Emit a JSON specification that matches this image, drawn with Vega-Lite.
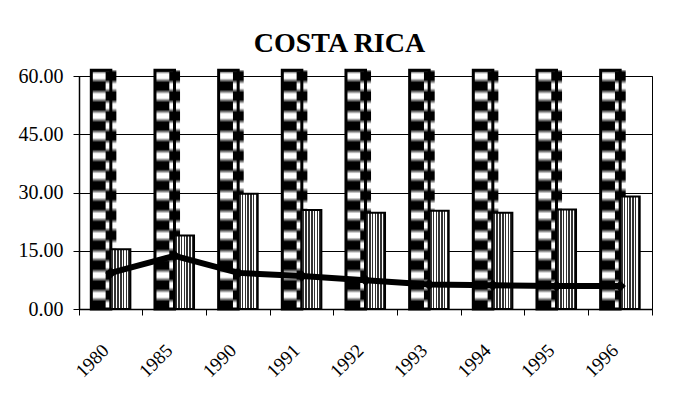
{
  "$schema": "https://vega.github.io/schema/vega-lite/v6.json",
  "width": 573,
  "height": 233,
  "autosize": {"type": "none"},
  "padding": {"left": 79, "top": 76, "right": 29, "bottom": 99},
  "background": "white",
  "title": {"text": "COSTA RICA", "font": "Liberation Serif", "fontSize": 28, "fontWeight": "bold", "color": "black", "anchor": "middle", "dx": -26, "offset": 8},
  "data": {"values": [
    {"year": "1980", "a": 61.5, "b": 15.4, "c": 9.3},
    {"year": "1985", "a": 61.5, "b": 18.9, "c": 13.7},
    {"year": "1990", "a": 61.5, "b": 29.7, "c": 9.3},
    {"year": "1991", "a": 61.5, "b": 25.5, "c": 8.5},
    {"year": "1992", "a": 61.5, "b": 24.8, "c": 7.4},
    {"year": "1993", "a": 61.5, "b": 25.3, "c": 6.3},
    {"year": "1994", "a": 61.5, "b": 24.8, "c": 6.1},
    {"year": "1995", "a": 61.5, "b": 25.6, "c": 5.9},
    {"year": "1996", "a": 61.5, "b": 29.0, "c": 5.9}
  ]},
  "config": {
    "view": {"stroke": "black", "strokeWidth": 1},
    "axis": {"labelFont": "Liberation Serif", "labelColor": "black", "domainColor": "black", "tickColor": "black", "gridColor": "black", "title": null}
  },
  "layer": [
    {
      "mark": {"type": "bar", "strokeWidth": 0, "fill": {"gradient": "linear", "x1": 0, "y1": 0, "x2": 0, "y2": 1, "stops": [
        {"offset": 0, "color": "#111"}, {"offset": 0.0163, "color": "#fff"},
        {"offset": 0.0337, "color": "#fff"}, {"offset": 0.0517, "color": "#000"}, {"offset": 0.0817, "color": "#000"}, {"offset": 0.0997, "color": "#fff"},
        {"offset": 0.117, "color": "#fff"}, {"offset": 0.135, "color": "#000"}, {"offset": 0.165, "color": "#000"}, {"offset": 0.183, "color": "#fff"},
        {"offset": 0.2003, "color": "#fff"}, {"offset": 0.2183, "color": "#000"}, {"offset": 0.2483, "color": "#000"}, {"offset": 0.2663, "color": "#fff"},
        {"offset": 0.2837, "color": "#fff"}, {"offset": 0.3017, "color": "#000"}, {"offset": 0.3317, "color": "#000"}, {"offset": 0.3497, "color": "#fff"},
        {"offset": 0.367, "color": "#fff"}, {"offset": 0.385, "color": "#000"}, {"offset": 0.415, "color": "#000"}, {"offset": 0.433, "color": "#fff"},
        {"offset": 0.4503, "color": "#fff"}, {"offset": 0.4683, "color": "#000"}, {"offset": 0.4983, "color": "#000"}, {"offset": 0.5163, "color": "#fff"},
        {"offset": 0.5337, "color": "#fff"}, {"offset": 0.5517, "color": "#000"}, {"offset": 0.5817, "color": "#000"}, {"offset": 0.5997, "color": "#fff"},
        {"offset": 0.617, "color": "#fff"}, {"offset": 0.635, "color": "#000"}, {"offset": 0.665, "color": "#000"}, {"offset": 0.683, "color": "#fff"},
        {"offset": 0.7003, "color": "#fff"}, {"offset": 0.7183, "color": "#000"}, {"offset": 0.7483, "color": "#000"}, {"offset": 0.7663, "color": "#fff"},
        {"offset": 0.7837, "color": "#fff"}, {"offset": 0.8017, "color": "#000"}, {"offset": 0.8317, "color": "#000"}, {"offset": 0.8497, "color": "#fff"},
        {"offset": 0.867, "color": "#fff"}, {"offset": 0.885, "color": "#000"}, {"offset": 0.915, "color": "#000"}, {"offset": 0.933, "color": "#fff"},
        {"offset": 0.9503, "color": "#fff"}, {"offset": 0.9683, "color": "#000"}, {"offset": 1, "color": "#000"}
      ]}},
      "encoding": {
        "x": {"field": "year", "type": "nominal", "sort": null,
          "scale": {"paddingInner": 0, "paddingOuter": 0},
          "axis": {"bandPosition": 1, "tickExtra": true, "labelAngle": -45, "labelAlign": "right", "labelBaseline": "middle", "labelOffset": -5, "labelPadding": 32, "labelFontSize": 19, "tickSize": 6, "domainWidth": 1.5, "grid": false}},
        "xOffset": {"datum": "A", "type": "nominal", "scale": {"domain": ["A", "B"], "paddingInner": 0, "paddingOuter": 0.63}},
        "y": {"field": "a", "type": "quantitative",
          "scale": {"domain": [0, 60], "nice": false, "zero": true},
          "axis": {"values": [0, 15, 30, 45, 60], "format": ".2f", "labelFontSize": 20, "labelPadding": 10, "tickSize": 6, "domainWidth": 1.5, "grid": true, "gridWidth": 1}}
      }
    },
    {
      "mark": {"type": "bar", "strokeWidth": 0, "width": {"band": 0.55}, "fill": {"gradient": "linear", "x1": 0, "y1": 0, "x2": 0, "y2": 1, "stops": [
        {"offset": 0, "color": "#888"}, {"offset": 0.010, "color": "#000"}, {"offset": 0.040, "color": "#000"}, {"offset": 0.058, "color": "#fff"},
        {"offset": 0.0753, "color": "#fff"}, {"offset": 0.0933, "color": "#000"}, {"offset": 0.1233, "color": "#000"}, {"offset": 0.1413, "color": "#fff"},
        {"offset": 0.1587, "color": "#fff"}, {"offset": 0.1767, "color": "#000"}, {"offset": 0.2067, "color": "#000"}, {"offset": 0.2247, "color": "#fff"},
        {"offset": 0.242, "color": "#fff"}, {"offset": 0.26, "color": "#000"}, {"offset": 0.29, "color": "#000"}, {"offset": 0.308, "color": "#fff"},
        {"offset": 0.3253, "color": "#fff"}, {"offset": 0.3433, "color": "#000"}, {"offset": 0.3733, "color": "#000"}, {"offset": 0.3913, "color": "#fff"},
        {"offset": 0.4087, "color": "#fff"}, {"offset": 0.4267, "color": "#000"}, {"offset": 0.4567, "color": "#000"}, {"offset": 0.4747, "color": "#fff"},
        {"offset": 0.492, "color": "#fff"}, {"offset": 0.51, "color": "#000"}, {"offset": 0.54, "color": "#000"}, {"offset": 0.558, "color": "#fff"},
        {"offset": 0.5753, "color": "#fff"}, {"offset": 0.5933, "color": "#000"}, {"offset": 0.6233, "color": "#000"}, {"offset": 0.6413, "color": "#fff"},
        {"offset": 0.6587, "color": "#fff"}, {"offset": 0.6767, "color": "#000"}, {"offset": 0.7067, "color": "#000"}, {"offset": 0.7247, "color": "#fff"},
        {"offset": 0.742, "color": "#fff"}, {"offset": 0.76, "color": "#000"}, {"offset": 0.79, "color": "#000"}, {"offset": 0.808, "color": "#fff"},
        {"offset": 0.8253, "color": "#fff"}, {"offset": 0.8433, "color": "#000"}, {"offset": 0.8733, "color": "#000"}, {"offset": 0.8913, "color": "#fff"},
        {"offset": 0.9087, "color": "#fff"}, {"offset": 0.9267, "color": "#000"}, {"offset": 0.9567, "color": "#000"}, {"offset": 0.9747, "color": "#fff"},
        {"offset": 1, "color": "#fff"}
      ]}},
      "encoding": {
        "x": {"field": "year", "type": "nominal", "sort": null},
        "xOffset": {"datum": "A", "type": "nominal"},
        "y": {"field": "a", "type": "quantitative"}
      }
    },
    {
      "mark": {"type": "bar", "fillOpacity": 0, "fill": "white", "stroke": "black", "strokeWidth": 3},
      "encoding": {
        "x": {"field": "year", "type": "nominal", "sort": null},
        "xOffset": {"datum": "A", "type": "nominal"},
        "y": {"field": "a", "type": "quantitative"}
      }
    },
    {
      "mark": {"type": "bar", "stroke": "black", "strokeWidth": 2, "fill": {"gradient": "linear", "x1": 0, "y1": 0, "x2": 1, "y2": 0, "stops": [
        {"offset": 0, "color": "#fff"},
        {"offset": 0.04, "color": "#fff"}, {"offset": 0.04, "color": "#333"}, {"offset": 0.12, "color": "#333"}, {"offset": 0.12, "color": "#fff"},
        {"offset": 0.183, "color": "#fff"}, {"offset": 0.183, "color": "#333"}, {"offset": 0.263, "color": "#333"}, {"offset": 0.263, "color": "#fff"},
        {"offset": 0.326, "color": "#fff"}, {"offset": 0.326, "color": "#333"}, {"offset": 0.406, "color": "#333"}, {"offset": 0.406, "color": "#fff"},
        {"offset": 0.469, "color": "#fff"}, {"offset": 0.469, "color": "#333"}, {"offset": 0.549, "color": "#333"}, {"offset": 0.549, "color": "#fff"},
        {"offset": 0.611, "color": "#fff"}, {"offset": 0.611, "color": "#333"}, {"offset": 0.691, "color": "#333"}, {"offset": 0.691, "color": "#fff"},
        {"offset": 0.754, "color": "#fff"}, {"offset": 0.754, "color": "#333"}, {"offset": 0.834, "color": "#333"}, {"offset": 0.834, "color": "#fff"},
        {"offset": 0.897, "color": "#fff"}, {"offset": 0.897, "color": "#333"}, {"offset": 0.977, "color": "#333"}, {"offset": 0.977, "color": "#fff"},
        {"offset": 1, "color": "#fff"}
      ]}},
      "encoding": {
        "x": {"field": "year", "type": "nominal", "sort": null},
        "xOffset": {"datum": "B", "type": "nominal"},
        "y": {"field": "b", "type": "quantitative"}
      }
    },
    {
      "mark": {"type": "line", "color": "black", "strokeWidth": 6, "point": {"shape": "diamond", "filled": true, "size": 130, "color": "black"}},
      "encoding": {
        "x": {"field": "year", "type": "nominal", "sort": null},
        "y": {"field": "c", "type": "quantitative"}
      }
    }
  ]
}
